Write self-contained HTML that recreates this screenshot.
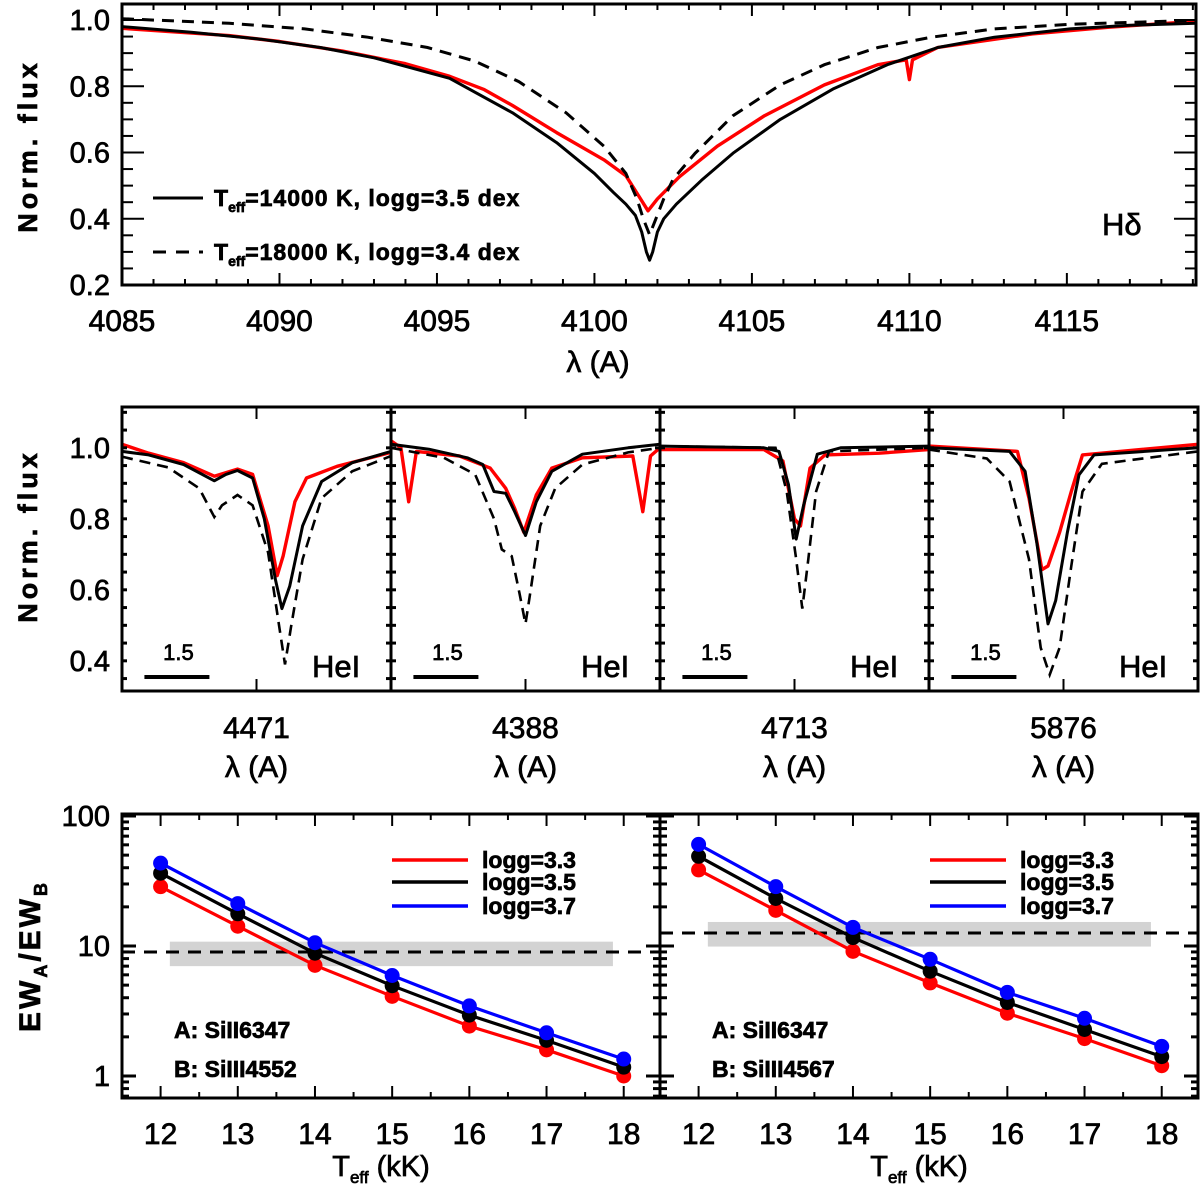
<!DOCTYPE html>
<html><head><meta charset="utf-8"><style>
html,body{margin:0;padding:0;background:#fff}
svg{display:block}
text{font-family:"Liberation Sans",sans-serif;fill:#000;stroke:#000;stroke-width:0.7}
</style></head><body>
<svg id="fig" width="1200" height="1186" viewBox="0 0 1200 1186" xmlns="http://www.w3.org/2000/svg"></svg>
<script>
// ---------- DATA ----------
// Top panel H-delta: [wavelength, flux]
const hdSolid=[[4085,0.98],[4087.2,0.963],[4089.4,0.942],[4091.3,0.917],[4093,0.886],[4095.4,0.824],[4097.4,0.72],[4098.8,0.63],[4100.0,0.537],[4100.6,0.48],[4101,0.444],[4101.3,0.41],[4101.5,0.36],[4101.65,0.30],[4101.75,0.275],[4101.85,0.30],[4102.0,0.36],[4102.2,0.40],[4102.6,0.444],[4103.4,0.516],[4104.4,0.598],[4105.9,0.70],[4107.6,0.793],[4109.3,0.865],[4110.9,0.917],[4112.7,0.948],[4115.1,0.973],[4117,0.984],[4119.1,0.99]];
const hdDashed=[[4085,1.004],[4088.4,0.99],[4090.8,0.973],[4092.8,0.948],[4094.7,0.917],[4096.2,0.876],[4097.6,0.814],[4099.1,0.72],[4100.3,0.619],[4101,0.537],[4101.35,0.46],[4101.55,0.40],[4101.75,0.352],[4101.95,0.40],[4102.2,0.46],[4102.5,0.52],[4103.2,0.598],[4104.4,0.711],[4105.9,0.804],[4107.3,0.865],[4109.0,0.917],[4110.7,0.948],[4112.7,0.973],[4115.1,0.987],[4119.1,0.999]];
const hdObs=[[4085,0.975],[4086.5,0.965],[4088.4,0.953],[4090,0.935],[4092,0.906],[4094,0.868],[4095.4,0.83],[4096.5,0.79],[4097.4,0.742],[4098.8,0.66],[4100.3,0.578],[4101.0,0.53],[4101.4,0.47],[4101.7,0.424],[4102,0.46],[4102.7,0.527],[4103.9,0.619],[4105.4,0.711],[4107.3,0.804],[4109,0.865],[4109.9,0.88],[4110,0.82],[4110.1,0.88],[4110.9,0.917],[4113.9,0.958],[4116.3,0.978],[4119.1,0.996]];
// Middle panels: [offset from line centre (A), flux]
const heLabels=["4471","4388","4713","5876"];
const heSolid=[
 [[-3.12,0.99],[-2.5,0.98],[-1.69,0.953],[-0.98,0.907],[-0.71,0.925],[-0.44,0.936],[-0.09,0.915],[0.18,0.80],[0.44,0.628],[0.59,0.547],[0.77,0.61],[1.07,0.78],[1.51,0.905],[2.22,0.958],[3.12,0.99]],
 [[-3.12,1.01],[-2.24,0.996],[-1.35,0.972],[-0.99,0.953],[-0.73,0.877],[-0.46,0.872],[-0.25,0.82],[0,0.753],[0.25,0.848],[0.61,0.934],[1.32,0.982],[2.38,1.0],[3.12,1.01]],
 [[-3.12,1.005],[-0.71,1.0],[-0.36,0.99],[-0.14,0.896],[0.04,0.743],[0.21,0.838],[0.53,0.982],[1.07,1.0],[3.12,1.005]],
 [[-3.12,1.0],[-1.25,0.99],[-0.89,0.934],[-0.62,0.733],[-0.36,0.504],[-0.18,0.57],[0.09,0.762],[0.36,0.924],[0.71,0.98],[3.12,1.0]]];
const heDashed=[
 [[-3.12,0.975],[-2.05,0.945],[-1.33,0.886],[-0.98,0.805],[-0.8,0.838],[-0.44,0.867],[-0.09,0.838],[0.27,0.705],[0.53,0.495],[0.66,0.39],[0.8,0.495],[1.07,0.686],[1.51,0.858],[2.22,0.934],[3.12,0.977]],
 [[-3.12,1.0],[-1.89,0.972],[-1.17,0.925],[-0.73,0.80],[-0.55,0.714],[-0.32,0.695],[-0.14,0.59],[0,0.504],[0.12,0.60],[0.34,0.78],[0.69,0.886],[1.32,0.953],[2.38,0.987],[3.12,1.0]],
 [[-3.12,1.005],[-0.44,1.0],[-0.18,0.877],[0.04,0.686],[0.18,0.547],[0.32,0.686],[0.5,0.877],[0.8,0.99],[3.12,1.0]],
 [[-3.12,0.995],[-1.78,0.97],[-1.25,0.905],[-0.8,0.686],[-0.53,0.437],[-0.32,0.361],[-0.09,0.437],[0.18,0.667],[0.44,0.877],[0.89,0.955],[3.12,0.99]]];
const heObs=[
 [[-3.12,1.01],[-2.5,0.985],[-1.69,0.958],[-0.98,0.92],[-0.44,0.94],[-0.09,0.925],[0.27,0.78],[0.48,0.64],[0.62,0.696],[0.89,0.848],[1.16,0.915],[1.87,0.948],[3.12,0.987]],
 [[-3.12,1.02],[-2.89,1.0],[-2.71,0.848],[-2.53,0.99],[-1.53,0.977],[-0.82,0.943],[-0.46,0.886],[-0.25,0.829],[-0.04,0.762],[0.25,0.867],[0.61,0.943],[1.32,0.972],[2.49,0.977],[2.72,0.82],[2.9,0.977],[3.12,1.0]],
 [[-3.12,0.995],[-0.71,0.995],[-0.27,0.963],[0,0.80],[0.14,0.78],[0.36,0.943],[0.71,0.98],[1.96,0.985],[3.12,0.995]],
 [[-3.12,1.005],[-1.07,0.99],[-0.8,0.858],[-0.5,0.657],[-0.36,0.667],[-0.09,0.762],[0.18,0.877],[0.44,0.98],[3.12,1.01]]];
// Bottom panels: EW ratio vs Teff
const teff=[12,13,14,15,16,17,18];
const ewLeftRed=[28.6,14.2,7.1,4.1,2.42,1.59,1.0];
const ewLeftBlack=[36.3,17.7,8.8,4.95,2.94,1.88,1.17];
const ewLeftBlue=[43.4,21.2,10.6,5.93,3.46,2.15,1.35];
const ewRightRed=[38.5,18.8,9.1,5.2,3.04,1.94,1.2];
const ewRightBlack=[49,23.2,11.6,6.4,3.68,2.28,1.41];
const ewRightBlue=[60.5,28.6,13.9,7.9,4.4,2.78,1.69];
const obsLeft=[9.0,7.0,10.8]; // value, band low, band high
const obsRight=[12.6,9.9,15.3];
const hdTicks=[4085,4090,4095,4100,4105,4110,4115];
const fluxTicksTop=["0.2","0.4","0.6","0.8","1.0"];
const fluxTicksMid=["0.4","0.6","0.8","1.0"];
const teffTicks=["12","13","14","15","16","17","18"];
const logTicks=["1","10","100"];

// ---------- HELPERS ----------
const NS="http://www.w3.org/2000/svg";
const svg=document.getElementById('fig');
function el(tag,attrs,parent,txt){const e=document.createElementNS(NS,tag);for(const k in attrs)e.setAttribute(k,attrs[k]);if(txt!==undefined)e.textContent=txt;(parent||svg).appendChild(e);return e;}
function lin(d0,d1,r0,r1){return v=>r0+(v-d0)*(r1-r0)/(d1-d0);}
function logs(d0,d1,r0,r1){return v=>r0+(Math.log10(v)-Math.log10(d0))*(r1-r0)/(Math.log10(d1)-Math.log10(d0));}
function path(pts,sx,sy){return pts.map((p,i)=>(i?'L':'M')+sx(p[0]).toFixed(1)+' '+sy(p[1]).toFixed(1)).join(' ');}
function line(x1,y1,x2,y2,w,parent){return el('line',{x1,y1,x2,y2,stroke:'#000','stroke-width':w||2},parent);}

// ---------- TOP PANEL ----------
const gTop=el('g',{});


const tx=lin(4085,4119.1,122,1196), ty=lin(0.2,1.0,285,20);
const clipT=el('clipPath',{id:'cT'},gTop);el('rect',{x:122,y:4,width:1074,height:281},clipT);
const pT=el('g',{'clip-path':'url(#cT)'},gTop);
let e;
e=el('path',{d:path(hdObs,tx,ty),fill:'none',stroke:'#f00','stroke-width':3.4,'stroke-linejoin':'round'},pT);


e=el('path',{d:path(hdDashed,tx,ty),fill:'none',stroke:'#000','stroke-width':3,'stroke-dasharray':'12 8'},pT);


e=el('path',{d:path(hdSolid,tx,ty),fill:'none',stroke:'#000','stroke-width':3,'stroke-linejoin':'round'},pT);


el('rect',{x:122,y:4,width:1074,height:281,fill:'none',stroke:'#000','stroke-width':3},gTop);
for(let w=4085;w<=4119;w++){const maj=(w%5===0);const X=tx(w);line(X,285,X,285-(maj?12:6),2,gTop);line(X,4,X,4+(maj?12:6),2,gTop);}
for(let v=0.2;v<=1.05;v+=0.05){const maj=Math.abs(v*10-Math.round(v*10))<1e-6&&Math.round(v*10)%2===0;const Y=ty(v);line(122,Y,122+(maj?22:11),Y,2,gTop);line(1196,Y,1196-(maj?22:11),Y,2,gTop);}
hdTicks.forEach(t=>{e=el('text',{x:tx(t),y:331,'font-size':30,'text-anchor':'middle'},gTop,String(t));});
fluxTicksTop.forEach(t=>{e=el('text',{x:110,y:ty(+t)+10,'font-size':29,'text-anchor':'end'},gTop,t);});
e=el('text',{x:598,y:372,'font-size':30,'text-anchor':'middle'},gTop,'λ (A)');

e=el('text',{x:0,y:0,'font-size':27,'font-weight':'bold','text-anchor':'middle','letter-spacing':4,transform:'translate(37,146) rotate(-90)'},gTop,'Norm. flux');

// legend
line(153,198,203,198,3,gTop);
e=el('path',{d:'M153 252 H203',stroke:'#000','stroke-width':3,'stroke-dasharray':'13 10',fill:'none'},gTop);
[[198,'14000','3.5'],[252,'18000','3.4']].forEach(r=>{
 const t=el('text',{x:214,y:r[0]+8,'font-size':23,'font-weight':'bold'},gTop);
 
 el('tspan',{},t,'T');el('tspan',{'font-size':14,dy:6},t,'eff');el('tspan',{dy:-6,'letter-spacing':1},t,'=1'+r[1].slice(1)+' K, logg='+r[2]+' dex');
});
e=el('text',{x:1102,y:235,'font-size':31},gTop,'Hδ');


// ---------- MIDDLE PANELS ----------
const mTop=407,mBot=691,mL=122,mW=269;
const my=lin(0.315,1.115,mBot,mTop);
for(let i=0;i<4;i++){
 const x0=mL+i*mW,x1=x0+mW;
 const g=el('g',{});
 
 
 const mx=lin(-3.12,3.12,x0,x1);
 const c=el('clipPath',{id:'cm'+i},g);el('rect',{x:x0,y:mTop,width:mW,height:mBot-mTop},c);
 const pg=el('g',{'clip-path':'url(#cm'+i+')'},g);
 e=el('path',{d:path(heObs[i],mx,my),fill:'none',stroke:'#f00','stroke-width':3.4,'stroke-linejoin':'round'},pg);
 
 e=el('path',{d:path(heDashed[i],mx,my),fill:'none',stroke:'#000','stroke-width':2.6,'stroke-dasharray':'11 7'},pg);
 
 e=el('path',{d:path(heSolid[i],mx,my),fill:'none',stroke:'#000','stroke-width':3,'stroke-linejoin':'round'},pg);
 
 el('rect',{x:x0,y:mTop,width:mW,height:mBot-mTop,fill:'none',stroke:'#000','stroke-width':3},g);
 const cx=mx(0);line(cx,mBot,cx,mBot-12,2,g);line(cx,mTop,cx,mTop+12,2,g);
 for(let v=0.35;v<=1.11;v+=0.05){const Y=my(v);line(x0,Y,x0+5,Y,3,g);line(x1,Y,x1-5,Y,3,g);}
 line(mx(-2.6),677,mx(-2.6)+65,677,4,g);
 e=el('text',{x:mx(-2.6)+34,y:660,'font-size':22,'text-anchor':'middle'},g,'1.5');
 
 e=el('text',{x:x0+190,y:677,'font-size':31},g,'HeI');
 
 e=el('text',{x:cx,y:738,'font-size':30,'text-anchor':'middle'},g,heLabels[i]);
 
 e=el('text',{x:cx,y:777,'font-size':30,'text-anchor':'middle'},g,'λ (A)');
 
}
fluxTicksMid.forEach(t=>{e=el('text',{x:110,y:my(+t)+10,'font-size':29,'text-anchor':'end'},svg,t);});
e=el('text',{x:0,y:0,'font-size':27,'font-weight':'bold','text-anchor':'middle','letter-spacing':4,transform:'translate(37,536) rotate(-90)'},svg,'Norm. flux');


// ---------- BOTTOM PANELS ----------
const bTop=814,bBot=1098;
const by=logs(1,10,1076,946);
const bottomSets=[
 {x0:122,x1:660,red:ewLeftRed,black:ewLeftBlack,blue:ewLeftBlue,obs:obsLeft,B:'SiIII4552',name:'left'},
 {x0:660,x1:1198,red:ewRightRed,black:ewRightBlack,blue:ewRightBlue,obs:obsRight,B:'SiIII4567',name:'right'}];
bottomSets.forEach(s=>{
 const g=el('g',{});
 
 
 const bx=lin(11.5,18.47,s.x0,s.x1);
 e=el('rect',{x:bx(12.12),y:by(s.obs[2]),width:bx(17.86)-bx(12.12),height:by(s.obs[1])-by(s.obs[2]),fill:'#d3d3d3'},g);
 
 e=el('path',{d:'M'+s.x0+' '+by(s.obs[0])+' H'+s.x1,stroke:'#000','stroke-width':3,'stroke-dasharray':'13 9',fill:'none'},g);
 
 [['red',s.red,'#f00'],['black',s.black,'#000'],['blue',s.blue,'#00f']].forEach(k=>{
  const pts=teff.map((t,j)=>[t,k[1][j]]);
  e=el('path',{d:path(pts,bx,by),fill:'none',stroke:k[2],'stroke-width':3.2},g);
  
  pts.forEach(p=>{const d=el('circle',{cx:bx(p[0]),cy:by(p[1]),r:7.5,fill:k[2]},g);
   
   });
 });
 el('rect',{x:s.x0,y:bTop,width:s.x1-s.x0,height:bBot-bTop,fill:'none',stroke:'#000','stroke-width':3},g);
 for(let t=11.5;t<=18.47;t+=0.5){const maj=Number.isInteger(t);const X=bx(t);line(X,bBot,X,bBot-(maj?12:6),2,g);line(X,bTop,X,bTop+(maj?12:6),2,g);}
 for(let dec=0.1;dec<=100;dec*=10){for(let m=1;m<10;m++){const v=dec*m;const Y=by(v);if(Y<bTop||Y>bBot)continue;const L=(m===1)?14:7;line(s.x0,Y,s.x0+L,Y,3,g);line(s.x1,Y,s.x1-L,Y,3,g);}}
 teffTicks.forEach(t=>{e=el('text',{x:bx(+t),y:1144,'font-size':30,'text-anchor':'middle'},g,t);});
 const tt=el('text',{x:(s.x0+s.x1)/2-10,y:1176,'font-size':29,'text-anchor':'middle'},g);
 
 el('tspan',{},tt,'T');el('tspan',{'font-size':17,dy:7},tt,'eff');el('tspan',{dy:-7},tt,' (kK)');
 const lx=s.x0+270;
 [['logg=3.3','#f00',860],['logg=3.5','#000',882],['logg=3.7','#00f',906]].forEach(r=>{
  line(lx,r[2],lx+76,r[2],3.5,g).setAttribute('stroke',r[1]);
  e=el('text',{x:lx+90,y:r[2]+8,'font-size':23,'font-weight':'bold',fill:r[1],stroke:r[1],'stroke-width':0.3},g,r[0]);
  
 });
 e=el('text',{x:s.x0+52,y:1038,'font-size':23,'font-weight':'bold','stroke-width':0.3},g,'A: SiII6347');
 
 e=el('text',{x:s.x0+52,y:1077,'font-size':23,'font-weight':'bold','stroke-width':0.3},g,'B: '+s.B);
 
});
logTicks.forEach(t=>{e=el('text',{x:110,y:by(+t)+10,'font-size':29,'text-anchor':'end'},svg,t);});
const yt=el('text',{x:0,y:0,'font-size':30,'font-weight':'bold','text-anchor':'middle','letter-spacing':3,transform:'translate(40,956) rotate(-90)'});

el('tspan',{},yt,'EW');el('tspan',{'font-size':18,dy:7},yt,'A');el('tspan',{dy:-7},yt,'/EW');el('tspan',{'font-size':18,dy:7},yt,'B');
</script>
</body></html>
